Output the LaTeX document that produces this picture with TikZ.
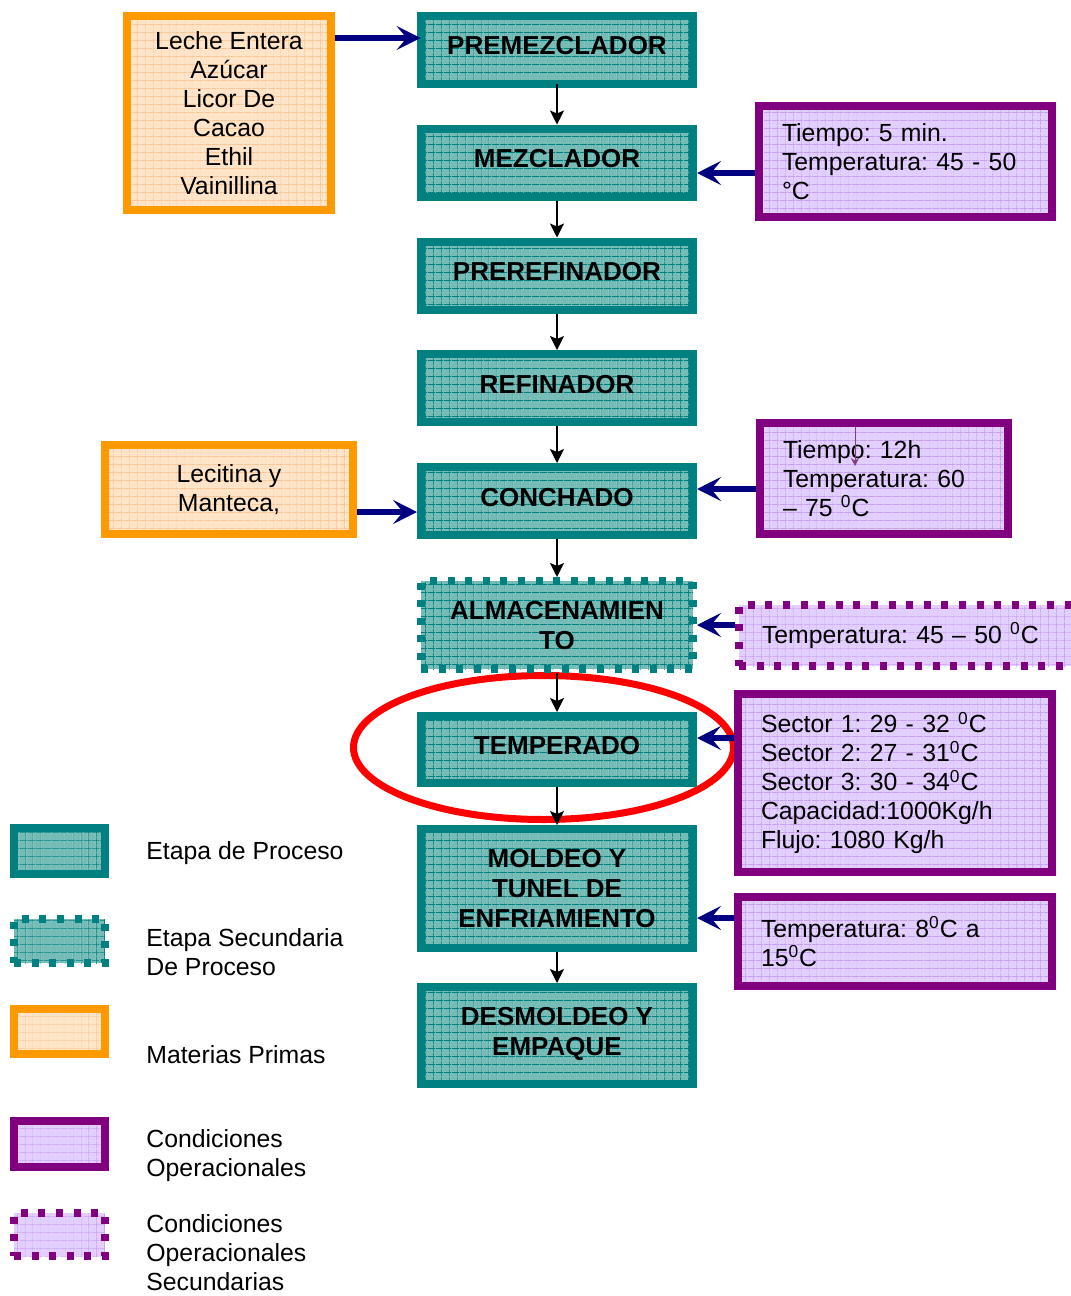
\documentclass[tikz,border=0pt]{standalone}
\usepackage{fontspec}
\setmainfont{Liberation Sans}
\frenchspacing
\usetikzlibrary{arrows.meta,patterns.meta}
\definecolor{tealline}{RGB}{0,128,128}
\definecolor{tealfill}{RGB}{118,188,182}
\definecolor{orangeline}{RGB}{255,153,0}
\definecolor{orangefill}{RGB}{255,228,200}
\definecolor{orangegrid}{RGB}{250,200,150}
\definecolor{purpleline}{RGB}{128,0,128}
\definecolor{purplefill}{RGB}{226,206,255}
\definecolor{purplegrid}{RGB}{200,160,240}
\definecolor{navyarrow}{RGB}{0,0,128}
\begin{document}
\begin{tikzpicture}[x=0.5pt, y=-0.5pt, font=\fontsize{12.4}{14.5}\selectfont,
	stagebase/.style={line width=4pt, inner sep=0pt},
	gridfill/.style 2 args={preaction={fill=#1}, preaction={pattern={Lines[distance=4pt,angle=90,line width=0.4pt]}, pattern color=#2}, pattern={Lines[distance=4pt,angle=0,line width=0.4pt]}, pattern color=#2},
	proc/.style={stagebase, draw=tealline, gridfill={tealfill}{tealline}, minimum width=136pt, text depth=4pt, align=center, font=\bfseries\fontsize{13}{15}\selectfont},
	procsec/.style={proc, dash pattern=on 3.5pt off 5.3pt},
	raw/.style={stagebase, draw=orangeline, gridfill={orangefill}{orangegrid}, align=center},
	cond/.style={stagebase, draw=purpleline, gridfill={purplefill}{purplegrid}, inner xsep=11.5pt, align=left},
	condsec/.style={cond, dash pattern=on 3.5pt off 5.3pt},
	flow/.style={-{Stealth[length=7pt,width=7pt,inset=1.5pt]}, line width=0.8pt, black},
	feed/.style={-{Stealth[length=12pt,width=12pt,inset=5pt]}, line width=2.8pt, navyarrow},
	legtext/.style={inner sep=0pt, align=left, anchor=west}]
\useasboundingbox (0,0) rectangle (1071,1296);
\draw[red, line width=3.5pt] (543.5,747.5) ellipse [x radius=190, y radius=72];
\node (premez) at (557,49.5) [proc, minimum height=34pt] {PREMEZCLADOR};
\node (mezcl) at (557,162.5) [proc, minimum height=34pt] {MEZCLADOR};
\node (preref) at (557,275.5) [proc, minimum height=34pt] {PREREFINADOR};
\node (refin) at (557,388) [proc, minimum height=34pt] {REFINADOR};
\node (conch) at (557,501) [proc, minimum height=34pt] {CONCHADO};
\node (almac) at (557,625) [procsec, minimum height=44pt, text depth=0pt] {ALMACENAMIEN\\TO};
\node (temper) at (557,749.5) [proc, minimum height=33.5pt] {TEMPERADO};
\node (moldeo) at (557,888.5) [proc, minimum height=59.5pt, text depth=0pt] {MOLDEO Y\\TUNEL DE\\ENFRIAMIENTO};
\node (desmol) at (557,1035.5) [proc, minimum height=48.5pt] {DESMOLDEO Y\\EMPAQUE};
\node (leche) at (229,113) [raw, minimum width=102pt, minimum height=97pt] {Leche Entera\\Azúcar\\Licor De\\Cacao\\Ethil\\Vainillina};
\node (lecit) at (229,489.5) [raw, minimum width=124pt, minimum height=44.5pt] {Lecitina y\\Manteca,};
\node (cond1) at (905.5,161.5) [cond, minimum width=146.5pt, text width=123.5pt, minimum height=55.5pt] {Tiempo: 5 min.\\Temperatura: 45 - 50\\°C};
\node (cond2) at (884,478.5) [cond, minimum width=124pt, text width=101pt, minimum height=55.5pt] {Tiempo: 12h\\Temperatura: 60\\– 75 \textsuperscript{0}C};
\node (cond3) at (912.5,635.5) [condsec, minimum width=173.5pt, text width=150.5pt, minimum height=30.5pt] {Temperatura: 45 – 50 \textsuperscript{0}C};
\node (cond4) at (895,783) [cond, minimum width=157pt, text width=134pt, minimum height=89pt] {Sector 1: 29 - 32 \textsuperscript{0}C\\Sector 2: 27 - 31\textsuperscript{0}C\\Sector 3: 30 - 34\textsuperscript{0}C\\Capacidad:1000Kg/h\\Flujo: 1080 Kg/h};
\node (cond5) at (895,941.5) [cond, minimum width=157pt, text width=134pt, minimum height=44.5pt] {Temperatura: 8\textsuperscript{0}C a\\15\textsuperscript{0}C};
\draw[flow] (premez.south) -- (mezcl.north);
\draw[flow] (mezcl.south) -- (preref.north);
\draw[flow] (preref.south) -- (refin.north);
\draw[flow] (refin.south) -- (conch.north);
\draw[flow] (conch.south) -- (almac.north);
\draw[flow] (almac.south) -- (temper.north);
\draw[flow] (temper.south) -- (moldeo.north);
\draw[flow] (moldeo.south) -- (desmol.north);
\draw[feed] (leche.east |- 0,38) -- (premez.west |- 0,38);
\draw[feed] (lecit.east |- 0,512) -- (conch.west |- 0,512);
\draw[feed] (cond1.west |- 0,173) -- (mezcl.east |- 0,173);
\draw[feed] (cond2.west |- 0,489) -- (conch.east |- 0,489);
\draw[feed] (cond3.west |- 0,625) -- (almac.east |- 0,625);
\draw[feed] (cond4.west |- 0,738) -- (temper.east |- 0,738);
\draw[feed] (cond5.west |- 0,918) -- (moldeo.east |- 0,918);
\coordinate (tick) at (855,466);
\draw[-{Stealth[length=4pt,width=4pt]}, line width=0.5pt, purpleline!50!gray, shorten <=4pt] (cond2.north -| tick) -- (tick);
\node (leg1) at (59.5,851) [proc, minimum width=45.5pt, minimum height=23pt] {};
\node (leg2) at (59.5,941) [procsec, minimum width=45.5pt, minimum height=22pt] {};
\node (leg3) at (59.5,1031.5) [raw, minimum width=45.5pt, minimum height=22.5pt] {};
\node (leg4) at (59.5,1144) [cond, minimum width=45.5pt, minimum height=23pt] {};
\node (leg5) at (59.5,1234.5) [condsec, minimum width=45.5pt, minimum height=21.5pt] {};
\node (txt1) at (146,853) [legtext] {Etapa de Proceso};
\node (txt2) at (146,952.5) [legtext] {Etapa Secundaria\\De Proceso};
\node (txt3) at (146,1055) [legtext] {Materias Primas};
\node (txt4) at (146,1155.5) [legtext] {Condiciones\\Operacionales};
\node (txt5) at (146,1253) [legtext] {Condiciones\\Operacionales\\Secundarias};
\end{tikzpicture}
\end{document}
